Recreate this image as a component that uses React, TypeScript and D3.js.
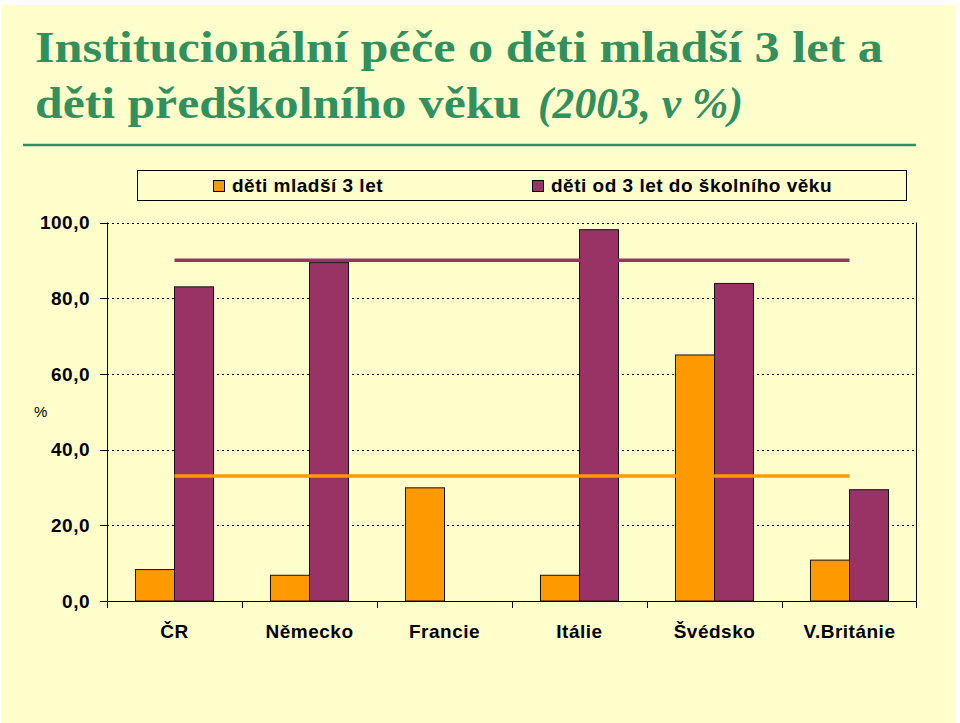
import React from "react";
import * as d3 from "d3";

const categories = ["ČR", "Německo", "Francie", "Itálie", "Švédsko", "V.Británie"];
const seriesNames = ["děti mladší 3 let", "děti od 3 let do školního věku"];
const under3 = [8.3, 6.8, 29.9, 6.8, 65.0, 10.8];
const preschool: (number | null)[] = [83.0, 89.4, null, 98.1, 83.9, 29.4];
const targetUnder3 = 33;
const targetPreschool = 90;
const yTicks = [0, 20, 40, 60, 80, 100];
const titleLine1 = "Institucionální péče o děti mladší 3 let a";
const titleLine2a = "děti předškolního věku";
const titleLine2b = "(2003, v %)";

const W = 960;
const H = 723;
const BG = "#FFFFCC";
const ORANGE = "#FF9900";
const PURPLE = "#993366";
const GREEN = "#31905E";
const SANS = "Arial, 'Liberation Sans', Helvetica, sans-serif";
const FS = 19;
const LS = 0.5;

export default function App() {
  React.useEffect(() => {
    document.body.style.margin = "0";
  }, []);

  const plotLeft = 107;
  const plotRight = 917;
  const plotTop = 222.5;
  const plotBottom = 601;

  const x0 = d3.scaleBand<string>().domain(categories).range([plotLeft, plotRight]).padding(0);
  const x1 = d3
    .scaleBand<string>()
    .domain(seriesNames)
    .range([0, x0.bandwidth()])
    .paddingInner(0)
    .paddingOuter(0.73);
  const y = d3.scaleLinear().domain([0, 100]).range([plotBottom, plotTop]);

  const seriesData = [
    { name: seriesNames[0], values: under3 as (number | null)[], color: ORANGE, target: targetUnder3 },
    { name: seriesNames[1], values: preschool, color: PURPLE, target: targetPreschool },
  ];

  const lineX0 = (x0(categories[0]) as number) + x0.bandwidth() / 2;
  const lineX1 = (x0(categories[categories.length - 1]) as number) + x0.bandwidth() / 2;
  const line = d3.line<[number, number]>();

  const fmt = (v: number) => v.toFixed(1).replace(".", ",");

  return (
    <svg
      width={W}
      height={H}
      style={{ display: "block", position: "absolute", left: 0, top: 0 }}
      xmlns="http://www.w3.org/2000/svg"
    >
      <rect x={0} y={0} width={W} height={H} fill="#ffffff" />
      <rect x={1} y={5} width={954} height={H - 5} fill={BG} />

      {/* Title */}
      <g fill={GREEN} fontFamily="'Liberation Serif', 'Times New Roman', serif" fontWeight="bold">
        <text x={35} y={62} fontSize={44} textLength={848} lengthAdjust="spacingAndGlyphs">
          {titleLine1}
        </text>
        <text x={35} y={118} fontSize={44} textLength={486} lengthAdjust="spacingAndGlyphs">
          {titleLine2a}
        </text>
        <text
          x={538}
          y={118}
          fontSize={44}
          fontStyle="italic"
          textLength={205}
          lengthAdjust="spacingAndGlyphs"
        >
          {titleLine2b}
        </text>
      </g>
      <line x1={23} x2={916} y1={145} y2={145} stroke={GREEN} strokeWidth={2.5} />

      {/* Legend */}
      <rect x={137.5} y={170.5} width={769} height={30} fill={BG} stroke="#000" strokeWidth={1} />
      {seriesData.map((s, i) => {
        const lx = i === 0 ? 213 : 532;
        return (
          <g key={s.name}>
            <rect x={lx + 0.5} y={180.5} width={11} height={11} fill={s.color} stroke="#000" strokeWidth={1} />
            <text
              x={lx + 19}
              y={192}
              fontFamily={SANS}
              fontWeight="bold"
              fontSize={FS}
              letterSpacing={LS}
              fill="#000"
            >
              {s.name}
            </text>
          </g>
        );
      })}

      {/* Gridlines */}
      {yTicks
        .filter((t) => t > 0)
        .map((t) => (
          <line
            key={"g" + t}
            x1={plotLeft}
            x2={plotRight}
            y1={Math.round(y(t)) + 0.5}
            y2={Math.round(y(t)) + 0.5}
            stroke="#000"
            strokeWidth={1}
            strokeDasharray="2,3"
          />
        ))}

      {/* Bars */}
      {seriesData.map((s) => (
        <g key={"bars" + s.name}>
          {categories.map((c, i) => {
            const v = s.values[i];
            if (v === null || v === undefined) return null;
            const bx = (x0(c) as number) + (x1(s.name) as number);
            return (
              <rect
                key={c}
                x={bx}
                y={y(v)}
                width={x1.bandwidth()}
                height={y(0) - y(v)}
                fill={s.color}
                stroke="#111"
                strokeWidth={1}
              />
            );
          })}
        </g>
      ))}

      {/* Target lines */}
      {seriesData.map((s) => (
        <path
          key={"t" + s.name}
          d={line([
            [lineX0, y(s.target)],
            [lineX1, y(s.target)],
          ]) as string}
          stroke={s.color}
          strokeWidth={3.5}
          fill="none"
        />
      ))}

      {/* Axes */}
      <line x1={plotLeft + 0.5} x2={plotLeft + 0.5} y1={plotTop} y2={plotBottom} stroke="#000" />
      <line x1={plotRight - 0.5} x2={plotRight - 0.5} y1={plotTop} y2={plotBottom + 7} stroke="#000" />
      <line x1={plotLeft} x2={plotRight} y1={plotBottom + 0.5} y2={plotBottom + 0.5} stroke="#000" />
      {yTicks.map((t) => (
        <g key={"yt" + t}>
          <line
            x1={plotLeft - 7}
            x2={plotLeft}
            y1={Math.round(y(t)) + 0.5}
            y2={Math.round(y(t)) + 0.5}
            stroke="#000"
          />
          <text
            x={90}
            y={y(t)}
            dy="0.36em"
            textAnchor="end"
            fontFamily={SANS}
            fontWeight="bold"
            fontSize={FS}
            letterSpacing={LS}
            fill="#000"
          >
            {fmt(t)}
          </text>
        </g>
      ))}
      {categories.map((c) => (
        <line
          key={"xt" + c}
          x1={Math.round(x0(c) as number) + 0.5}
          x2={Math.round(x0(c) as number) + 0.5}
          y1={plotBottom}
          y2={plotBottom + 7}
          stroke="#000"
        />
      ))}
      {categories.map((c) => (
        <text
          key={"xl" + c}
          x={(x0(c) as number) + x0.bandwidth() / 2}
          y={638}
          textAnchor="middle"
          fontFamily={SANS}
          fontWeight="bold"
          fontSize={FS}
          letterSpacing={LS}
          fill="#000"
        >
          {c}
        </text>
      ))}
      <text x={34} y={417} fontFamily={SANS} fontSize={15} fill="#000">
        %
      </text>
    </svg>
  );
}
